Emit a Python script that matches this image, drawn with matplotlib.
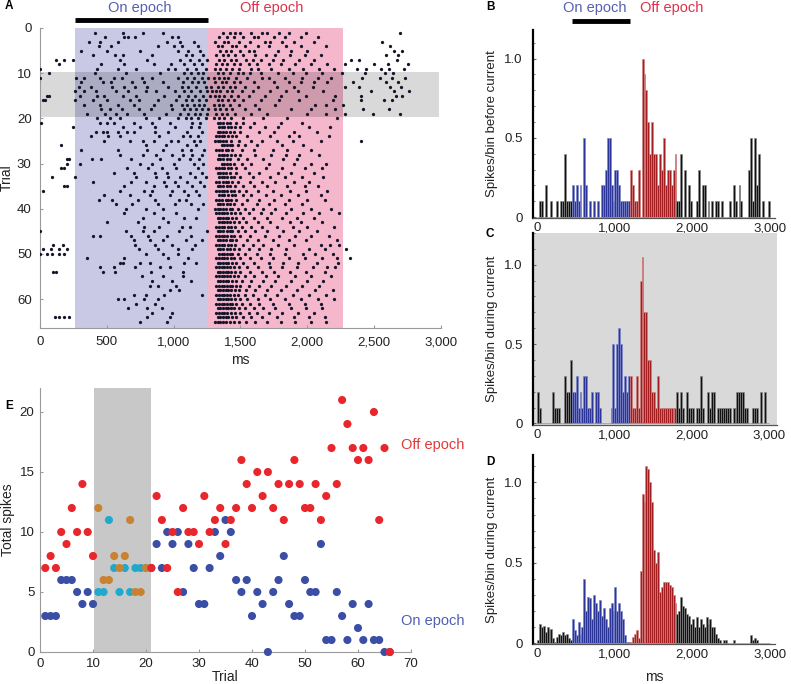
import numpy as np
import matplotlib
matplotlib.use("Agg")
import matplotlib.pyplot as plt
from matplotlib.ticker import FuncFormatter, MultipleLocator, FixedLocator

plt.rcParams['font.family'] = ['Liberation Sans', 'DejaVu Sans']

# ---------------- DATA ----------------
# Panel A raster: spike times per trial (units of 10 ms), trials 1..65
RASTER = [
    "41 62 77 92 137 142 146 150 158 166 170 179 186 199 269",
    "49 63 66 71 99 103 134 140 145 152 160 163 175 183 195 208",
    "37 45 58 95 105 115 131 138 141 149 157 168 172 181 190 205 256",
    "44 53 88 100 106 118 133 136 144 147 153 163 171 184 195 214 262",
    "31 50 75 103 111 120 135 139 143 150 156 160 178 188 200 265 271",
    "40 56 62 84 109 114 122 132 137 141 146 152 161 169 176 187 198 210 259 268",
    "12 18 25 60 80 105 112 119 125 134 138 143 147 154 159 165 174 182 194 205 233 239 267",
    "14 46 63 85 98 108 115 121 132 136 140 145 150 156 162 171 180 191 203 215 228 250 260 275",
    "0 43 58 72 96 101 110 117 124 131 135 139 144 149 158 163 173 186 197 209 220 237 244 255 261 272",
    "7 41 64 90 108 113 118 122 133 137 142 148 152 157 165 178 189 199 211 226 243 258 264",
    "0 27 33 45 55 61 76 84 103 110 115 121 126 130 134 138 141 147 155 166 171 183 196 208 218 241 254 263 273",
    "31 47 53 69 78 92 107 114 118 123 131 136 139 145 150 160 175 186 195 205 215 234 259 268",
    "29 38 54 63 71 80 96 106 111 117 124 128 133 137 142 146 153 163 177 190 204 228 239 262 270",
    "26 33 42 57 66 79 87 101 108 113 120 125 129 132 135 140 144 151 159 172 184 193 212 248 265 276",
    "5 7 30 43 48 62 72 93 104 111 116 122 127 131 134 138 143 148 156 168 180 199 221 240 266 271",
    "2 4 26 40 50 67 74 88 102 109 114 119 124 133 136 141 145 152 165 179 194 219 240 257 263",
    "33 45 58 70 85 98 106 110 115 119 123 130 134 137 142 149 161 176 206 214 227",
    "46 52 61 74 83 99 108 112 117 121 126 131 135 139 144 153 164 188 203 221 242 261",
    "35 49 57 65 78 94 105 111 116 120 125 132 136 140 146 158 170 200 214 228 249 269",
    "43 52 60 79 89 103 109 113 118 124 130 134 138 143 152 167 185 222",
    "1 45 50 55 70 84 97 114 120 133 135 137 140 142 147 152 160 180 196",
    "25 62 75 86 101 113 119 134 136 138 141 143 146 150 157 168 178 201 217",
    "42 47 50 58 65 70 86 96 110 121 133 135 137 139 142 145 150 164 175 190 207",
    "38 51 60 89 107 112 118 132 134 136 138 141 144 147 155 172 186 194 216",
    "48 67 77 85 98 103 115 120 131 133 135 137 139 143 149 158 166 177 189 210 240",
    "16 79 94 110 117 136 138 140 142 144 148 153 162 181 197",
    "31 58 80 92 106 113 123 132 134 136 139 141 144 151 160 174 185 203",
    "60 77 87 99 107 114 121 134 136 138 140 143 146 150 161 173 184 194 209",
    "20 22 39 46 68 90 104 112 119 133 135 137 140 142 148 155 167 182 192",
    "20 30 75 84 100 115 122 136 138 140 142 145 151 158 171 190 203 214",
    "16 18 65 81 91 102 118 132 134 136 138 141 143 147 153 169 181 198 211",
    "55 70 86 95 112 121 133 135 137 139 142 147 156 164 178 188 205",
    "9 26 72 87 96 105 116 124 134 136 138 140 143 145 150 159 172 183 196 212",
    "40 68 79 93 101 110 120 132 134 137 139 141 144 148 157 166 176 190 201",
    "18 20 63 85 94 103 114 123 133 135 137 140 142 146 152 160 170 185 198 208",
    "2 60 78 84 99 108 117 132 134 136 138 140 143 145 149 154 163 174 187 199 215",
    "48 67 82 97 111 119 134 136 138 141 144 146 152 158 169 180 193 210",
    "44 54 73 86 104 109 132 134 136 139 141 143 147 155 164 175 186 200 213",
    "57 69 88 101 113 122 133 135 137 140 142 145 151 162 171 183 196",
    "64 79 92 118 131 133 135 137 139 142 144 148 153 159 167 176 188 203 218",
    "63 85 102 132 134 136 138 140 143 146 150 156 165 173 184 197 209 224",
    "77 92 108 117 133 135 137 139 141 144 147 152 160 170 181 192 205",
    "50 73 96 134 136 138 140 142 145 149 154 163 172 187 195 211",
    "78 89 106 112 132 134 136 138 141 143 146 151 158 166 177 189 200 220",
    "0 64 77 85 104 125 133 135 137 140 142 144 148 153 161 170 182 194 207",
    "40 45 68 81 95 113 132 134 136 138 140 143 145 150 157 168 179 191 203 216",
    "70 82 92 109 121 133 135 137 139 142 144 147 155 163 174 186 199 222",
    "10 17 71 86 99 116 132 134 136 138 141 143 146 152 159 167 178 190 210 217 224",
    "2 8 14 20 74 88 103 114 133 135 137 140 142 145 149 156 164 173 184 201 213 229",
    "0 5 9 14 18 79 92 103 134 136 138 140 142 144 148 153 162 172 183 197 206 219",
    "35 63 96 111 132 134 136 138 140 143 145 150 157 165 174 186 198 211 222 232",
    "60 62 75 82 108 117 133 135 137 139 141 144 147 152 160 171 182 193 207 223",
    "45 55 71 90 97 132 134 136 138 140 142 145 149 155 163 172 181 192 204 215 221",
    "10 12 47 56 83 107 133 135 137 139 141 143 146 150 157 166 175 187 199 213",
    "76 92 107 132 134 136 138 140 142 145 148 153 160 169 178 191 203 218",
    "84 99 113 133 135 137 139 141 144 147 151 158 167 176 188 200 212",
    "82 88 102 132 134 136 138 140 142 144 147 150 156 164 173 184 196 209",
    "97 104 133 135 137 139 141 143 146 149 154 161 170 180 192 206 219",
    "70 79 93 121 132 134 136 138 140 142 145 148 153 159 168 177 189 201 214",
    "58 63 78 88 133 135 137 139 141 143 146 150 155 163 172 183 195 208 220",
    "72 86 132 134 136 138 140 142 144 147 151 157 164 174 186 198 210",
    "66 80 91 133 135 137 139 141 143 145 149 153 160 167 176 188 199 211",
    "84 99 132 134 136 138 140 143 146 150 156 162 171 181 193 205",
    "11 14 18 22 80 97 133 135 137 139 141 144 147 152 158 166 177 190 201 213",
    "75 95 131 133 135 137 139 142 145 149 154 161 170 180 191 203 214",
]
RASTER_ON = (265, 1255)      # ms
RASTER_OFF = (1255, 2265)    # ms
RASTER_CURRENT = (9.7, 19.7)  # trials

# Panel E: total spikes per trial
E_TRIALS = list(range(1, 67))
E_OFF = [7, 8, 7, 10, 9, 12, 10, 14, 10, 8,
         12, 6, 6, 8, 7, 8, 11, 5, 5, 7,
         7, 13, 11, 7, 10, 5, 12, 10, 10, 9,
         13, 10, 11, 12, 9, 11, 12, 16, 14, 12,
         15, 13, 15, 12, 14, 11, 14, 16, 14, 12,
         12, 14, 11, 13, 17, 14, 21, 19, 17, 16,
         17, 16, 20, 11, 17, 0]
E_ON = [3, 3, 3, 6, 6, 6, 5, 4, 5, 4,
        5, 5, 11, 7, 5, 7, 5, 7, 7, 7,
        7, 9, 7, 10, 9, 10, 5, 9, 7, 4,
        4, 7, 10, 8, 11, 10, 6, 5, 6, 3,
        5, 4, 0, 5, 6, 8, 4, 3, 3, 6,
        5, 5, 9, 1, 1, 5, 3, 1, 4, 2,
        1, 4, 1, 1, 0, 0]
E_CURRENT_TRIALS = list(range(11, 21))
E_CURRENT_BAND = (10.2, 21.0)

# Panels B-D: peri-stimulus histograms, 25 ms bins from 0 to 3000 ms
BIN_MS = 25
HIST_ON = (450, 1200)
HIST_OFF = (1200, 1800)
HIST_B = [0, .1, .1, 0, .2, 0, 0, .1, 0, 0,
          .1, 0, .1, .1, .4, .1, .1, .1, .2, .1,
          .2, .1, .2, 0, .5, .2, 0, .1, 0, .1,
          0, .1, 0, .2, .2, .3, .5, .5, .2, .1,
          .3, .3, .2, .1, .1, .1, .1, .1, .3, .2,
          .1, .1, .3, 0, 1.0, .9, .8, .6, .4, .6,
          .4, .4, .2, .4, .3, .5, .2, .3, .3, .2,
          .3, .4, .1, .1, .4, 0, .3, 0, .2, .1,
          0, 0, .1, .3, 0, .2, .2, 0, .1, 0,
          .1, 0, .1, .1, 0, .1, 0, 0, 0, .1,
          0, .2, .1, 0, .2, .1, 0, 0, 0, .3,
          .5, .1, .5, .2, .4, 0, .1, 0, 0, .1]
HIST_C = [.2, .1, 0, 0, 0, 0, 0, 0, .2, .1,
          .1, .1, 0, 0, .3, .2, .2, .4, .2, .2,
          .3, .1, .2, .1, .3, .3, .1, .1, .2, 0,
          .2, .2, .1, 0, 0, 0, 0, 0, .1, .5,
          .1, .5, .6, .5, .2, .3, .2, .3, .3, .1,
          .1, .3, .1, .9, 1.05, .7, .7, .4, .4, .2,
          .2, .1, .3, .1, .1, .1, .1, .1, .1, .1,
          .1, .1, .2, .1, .2, .1, 0, .2, .1, .1,
          .1, 0, .1, .1, .3, .1, 0, 0, .2, .1,
          .2, .2, 0, .1, .1, .1, .1, .1, .1, .1,
          0, .1, .1, .2, .2, .2, .2, .1, .1, 0,
          0, .1, .1, .1, 0, .2, 0, .2, 0, 0]
HIST_D = [.02, .12, .1, .11, .07, .1, .08, .09, .03, .01,
          .04, .06, .05, .07, .05, .06, .03, .02, .15, .08,
          .05, .13, .06, .1, .4, .2, .29, .28, .15, .3,
          .25, .2, .27, .17, .22, .15, .1, .22, .25, .2,
          .35, .2, .25, .2, .15, .05, .01, .01, .01, .04,
          .06, .08, .03, .45, .93, .88, 1.1, 1.08, 1.0, .88,
          .58, .5, .57, .32, .35, .38, .38, .38, .36, .35,
          .3, .25, .18, .2, .29, .23, .22, .18, .17, .12,
          .15, .1, .16, .1, .15, .12, .1, .16, .12, .15,
          .1, .1, .06, .03, .02, 0, .02, .02, 0, 0,
          0, .02, 0, 0, 0, 0, 0, 0, 0, 0,
          .05, .02, .03, .02, 0, 0, 0, 0, 0, 0]

# ---------------- STYLE ----------------
W, H = 791, 684
fig = plt.figure(figsize=(W / 100, H / 100), dpi=100)

def fx(px):
    return px / W

def fy(py):
    return 1 - py / H

def box(l, t, r, b):
    return [fx(l), fy(b), (r - l) / W, (b - t) / H]

SPINE_GRAY = '#9a9a9a'
TXT = '#222222'
BLUE_TXT = '#5560b0'
RED_TXT = '#e0304a'
FS = 9.5

comma = FuncFormatter(lambda v, p: f"{v:,.0f}")

# ---------------- PANEL A ----------------
A_L, A_R = 40, 441
axA = fig.add_axes(box(A_L, 28, A_R, 328))
axA.axvspan(*RASTER_ON, color='#c9c9e6', lw=0, zorder=0)
axA.axvspan(*RASTER_OFF, color='#f4b7cb', lw=0, zorder=0)
axA.axhspan(*RASTER_CURRENT, xmin=0, xmax=0.995, color='black', alpha=0.15, lw=0, zorder=1)
xs, ys = [], []
for i, row in enumerate(RASTER):
    for t in row.split():
        xs.append(int(t) * 10)
        ys.append(i + 1)
axA.scatter(xs, ys, s=5.5, color='#15152a', lw=0, zorder=3)
axA.set_xlim(0, 3000)
axA.set_ylim(66.4, 0)
axA.xaxis.set_major_locator(MultipleLocator(500))
axA.xaxis.set_major_formatter(comma)
axA.yaxis.set_major_locator(MultipleLocator(10))
for s in ['top', 'right']:
    axA.spines[s].set_visible(False)
for s in ['left', 'bottom']:
    axA.spines[s].set_color(SPINE_GRAY)
    axA.spines[s].set_linewidth(0.8)
axA.tick_params(direction='in', length=2.5, color=SPINE_GRAY, labelsize=FS, labelcolor=TXT, pad=6)
axA.set_xlabel('ms', fontsize=FS + 0.5, color=TXT, labelpad=3)
axA.set_ylabel('Trial', fontsize=FS + 0.5, color=TXT)
axA.yaxis.set_label_coords((14 - A_L) / (A_R - A_L), 0.5)
# stimulus bar above raster
axA.plot(RASTER_ON, [-1.8, -1.8], color='black', lw=3.5, clip_on=False, solid_capstyle='butt')

fig.text(fx(140), fy(8), 'On epoch', color=BLUE_TXT, fontsize=FS + 1, ha='center', va='center')
fig.text(fx(272), fy(8), 'Off epoch', color=RED_TXT, fontsize=FS + 1, ha='center', va='center')
fig.text(fx(5), fy(6), 'A', fontsize=FS - 1, fontweight='bold', ha='left', va='center')

# ---------------- PANELS B-D ----------------
def color_for(edge):
    if HIST_ON[0] <= edge < HIST_ON[1]:
        return '#2b3598', '#7e86cc'
    if HIST_OFF[0] <= edge < HIST_OFF[1]:
        return '#a11d1f', '#d58484'
    return '#111111', '#8a8a8a'

def hist_panel(ax, vals, xlim, ylim, ylabel, facecolor='white', xlabel=None, width_px=242):
    edges = np.arange(len(vals)) * BIN_MS
    fc = [color_for(e)[0] for e in edges]
    ec = [color_for(e)[1] for e in edges]
    ax.bar(edges, vals, width=BIN_MS, align='edge', color=fc, edgecolor=ec, linewidth=0.45, zorder=2)
    ax.set_facecolor(facecolor)
    ax.set_xlim(*xlim)
    ax.set_ylim(*ylim)
    ax.xaxis.set_major_locator(FixedLocator([0, 1000, 2000, 3000]))
    ax.xaxis.set_major_formatter(comma)
    ax.yaxis.set_major_locator(FixedLocator([0, 0.5, 1.0]))
    ax.yaxis.set_major_formatter(FuncFormatter(lambda v, p: '0' if v == 0 else f"{v:.1f}"))
    ax.yaxis.set_minor_locator(MultipleLocator(0.1))
    for s in ['top', 'right']:
        ax.spines[s].set_visible(False)
    ax.spines['left'].set_color('black')
    ax.spines['left'].set_linewidth(1.6)
    ax.spines['bottom'].set_color('#555555')
    ax.spines['bottom'].set_linewidth(0.9)
    ax.tick_params(axis='x', length=0, labelsize=FS, labelcolor=TXT, pad=3)
    ax.tick_params(axis='y', which='major', direction='in', length=2, color='#666666',
                   labelsize=FS, labelcolor=TXT, pad=7.5)
    ax.tick_params(axis='y', which='minor', direction='in', length=1.5, color='#666666')
    ax.set_ylabel(ylabel, fontsize=FS, color=TXT)
    ax.yaxis.set_label_coords((498 - 533) / width_px, 0.5)
    if xlabel:
        ax.set_xlabel(xlabel, fontsize=FS + 0.5, color=TXT, labelpad=7)

axB = fig.add_axes(box(533, 30, 775, 218))
hist_panel(axB, HIST_B, (-50, 3070), (-0.005, 1.18), 'Spikes/bin before current')
axB.plot(HIST_ON, [1.235, 1.235], color='black', lw=3.5, clip_on=False, solid_capstyle='butt')
fig.text(fx(595), fy(8), 'On epoch', color=BLUE_TXT, fontsize=FS + 1, ha='center', va='center')
fig.text(fx(672), fy(8), 'Off epoch', color=RED_TXT, fontsize=FS + 1, ha='center', va='center')
fig.text(fx(486), fy(7), 'B', fontsize=FS - 1, fontweight='bold', ha='left', va='center')

axC = fig.add_axes(box(533, 233, 777, 425))
hist_panel(axC, HIST_C, (-50, 3098), (-0.01, 1.2), 'Spikes/bin during current',
           facecolor='#d9d9d9', width_px=244)
fig.text(fx(486), fy(234), 'C', fontsize=FS - 1, fontweight='bold', ha='left', va='center')

axD = fig.add_axes(box(533, 455, 775, 644))
hist_panel(axD, HIST_D, (-50, 3070), (-0.005, 1.17), 'Spikes/bin during current', xlabel='ms')
fig.text(fx(486), fy(462), 'D', fontsize=FS - 1, fontweight='bold', ha='left', va='center')

# ---------------- PANEL E ----------------
E_L, E_R = 40, 411
axE = fig.add_axes(box(E_L, 388, E_R, 652))
axE.axvspan(*E_CURRENT_BAND, color='#c8c8c8', lw=0, zorder=0)
on_c = ['#21a9cc' if t in E_CURRENT_TRIALS else '#3b4ea5' for t in E_TRIALS]
off_c = ['#c98230' if t in E_CURRENT_TRIALS else '#e8262b' for t in E_TRIALS]
axE.scatter(E_TRIALS, E_ON, s=34, c=on_c, lw=0, zorder=3, clip_on=False)
axE.scatter(E_TRIALS, E_OFF, s=34, c=off_c, lw=0, zorder=4, clip_on=False)
axE.set_xlim(0, 70)
axE.set_ylim(0, 22)
axE.xaxis.set_major_locator(MultipleLocator(10))
axE.yaxis.set_major_locator(FixedLocator([0, 5, 10, 15, 20]))
for s in ['top', 'right']:
    axE.spines[s].set_visible(False)
for s in ['left', 'bottom']:
    axE.spines[s].set_color(SPINE_GRAY)
    axE.spines[s].set_linewidth(0.8)
axE.tick_params(direction='in', length=2.5, color=SPINE_GRAY, labelsize=FS, labelcolor=TXT, pad=4)
axE.set_xlabel('Trial', fontsize=FS + 0.5, color=TXT, labelpad=0)
axE.set_ylabel('Total spikes', fontsize=FS + 0.5, color=TXT)
axE.yaxis.set_label_coords((15 - E_L) / (E_R - E_L), 0.5)
fig.text(fx(433), fy(445), 'Off epoch', color='#e03a3a', fontsize=FS + 1, ha='center', va='center')
fig.text(fx(433), fy(621), 'On epoch', color='#5060b0', fontsize=FS + 1, ha='center', va='center')
fig.text(fx(5), fy(406), 'E', fontsize=FS - 1, fontweight='bold', ha='left', va='center')

fig.savefig('out.png', dpi=100)
